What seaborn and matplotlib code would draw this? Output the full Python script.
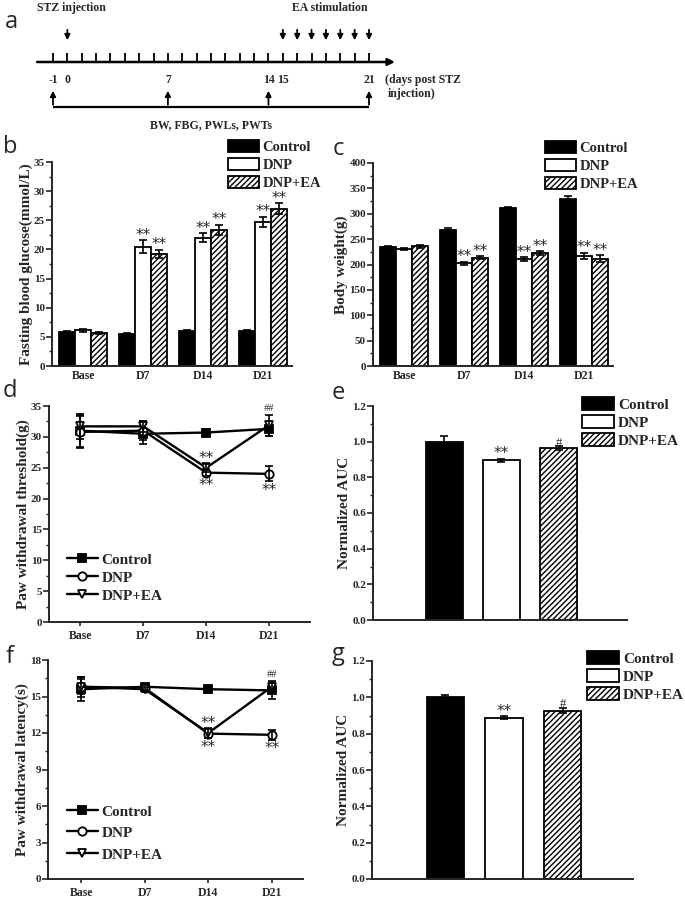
import numpy as np
import pandas as pd
import matplotlib
matplotlib.use("Agg")
import matplotlib.pyplot as plt
from matplotlib.ticker import MultipleLocator
import seaborn as sns

sns.set_style("ticks")
plt.rcParams['font.family'] = ['Liberation Serif', 'DejaVu Serif']
plt.rcParams['font.weight'] = 'bold'
plt.rcParams['axes.labelweight'] = 'bold'
plt.rcParams['hatch.linewidth'] = 1.0
plt.rcParams['hatch.color'] = 'black'

W, H = 685, 899

# ---- data ----
groups = ["Control", "DNP", "DNP+EA"]
days = ["Base", "D7", "D14", "D21"]

# timeline (panel a)
tl_days = list(range(-1, 22))
stz_days = [0]
ea_days = [15, 16, 17, 18, 19, 20, 21]
test_days = [-1, 7, 14, 21]
tl_label_days = [-1, 0, 7, 14, 15, 21]

# b: fasting blood glucose
fbg_ctrl = [5.8, 5.5, 6.0, 6.0]
fbg_dnp = [6.1, 20.5, 22.0, 24.7]
fbg_ea = [5.7, 19.2, 23.3, 27.0]
fbg_ctrl_err = [0.2, 0.2, 0.2, 0.2]
fbg_dnp_err = [0.2, 1.1, 0.8, 0.9]
fbg_ea_err = [0.2, 0.7, 0.9, 0.9]

# c: body weight
bw_ctrl = [235, 268, 311, 330]
bw_dnp = [230, 202, 210, 217]
bw_ea = [236, 213, 222, 211]
bw_ctrl_err = [2, 3, 3, 5]
bw_dnp_err = [2, 3, 4, 6]
bw_ea_err = [3, 3, 4, 7]

# d: paw withdrawal threshold
pwt_ctrl = [31.0, 30.5, 30.7, 31.3]
pwt_dnp = [30.8, 31.0, 24.2, 24.0]
pwt_ea = [31.7, 31.7, 25.0, 31.9]
pwt_ctrl_err = [2.6, 1.6, 0.5, 1.1]
pwt_dnp_err = [2.6, 1.5, 0.6, 1.2]
pwt_ea_err = [2.0, 0.9, 0.7, 1.7]

# e: normalized AUC (PWT)
auc_e = [1.0, 0.895, 0.963]
auc_e_err = [0.03, 0.007, 0.01]

# f: paw withdrawal latency
pwl_ctrl = [15.6, 15.8, 15.6, 15.5]
pwl_dnp = [15.8, 15.7, 11.95, 11.85]
pwl_ea = [15.8, 15.6, 12.0, 15.8]
pwl_ctrl_err = [1.0, 0.2, 0.3, 0.7]
pwl_dnp_err = [0.6, 0.2, 0.4, 0.4]
pwl_ea_err = [0.8, 0.2, 0.4, 0.5]

# g: normalized AUC (PWL)
auc_g = [1.0, 0.887, 0.927]
auc_g_err = [0.012, 0.008, 0.014]

fills = {"Control": "black", "DNP": "white", "DNP+EA": "white"}
hatches = {"Control": "", "DNP": "", "DNP+EA": "//////"}
markers = {"Control": "s", "DNP": "o", "DNP+EA": "v"}
mfaces = {"Control": "black", "DNP": "white", "DNP+EA": "white"}

fig = plt.figure(figsize=(W / 100, H / 100), dpi=100)


def px_axes(l, t, r, b):
    return fig.add_axes([l / W, 1 - b / H, (r - l) / W, (b - t) / H])


def style_axes(ax, major, xticks=False):
    sns.despine(ax=ax)
    for s in ["left", "bottom"]:
        ax.spines[s].set_linewidth(1.4)
    ax.yaxis.set_major_locator(MultipleLocator(major))
    ax.yaxis.set_minor_locator(MultipleLocator(major / 2))
    ax.tick_params(axis='y', which='major', length=4, width=1.2, labelsize=8, pad=1)
    ax.tick_params(axis='y', which='minor', length=2.5, width=1.0)
    ax.tick_params(axis='x', length=3 if xticks else 0, width=1.2, labelsize=8.5, pad=3)
    for lab in ax.get_xticklabels() + ax.get_yticklabels():
        lab.set_fontweight('bold')
    ax.set_xlabel("")


def legend(ax, handles, x, y, fs, spacing, hl=2.1):
    fig.legend(handles=handles, labels=groups, loc='upper left',
               bbox_to_anchor=(x / W, 1 - y / H), frameon=False, fontsize=fs,
               borderpad=0, borderaxespad=0, handlelength=hl, handleheight=0.9,
               handletextpad=0.25, labelspacing=spacing)


def star(ax, x, y, s, va):
    if s == "#":
        fs = 9
    elif s == "##":
        fs = 7.5
    else:
        fs = 11
    ax.text(x, y, s, ha='center', va=va, fontsize=fs, fontweight='normal',
            family=['DejaVu Sans'] if s.startswith("*") else ['Liberation Serif'])


def grouped_bars(ax, means, errs, stars, ylim, major, ylabel):
    df = pd.DataFrame({"day": [d for g in groups for d in days],
                       "group": [g for g in groups for _ in days],
                       "value": [v for m in means for v in m]})
    sns.barplot(data=df, x="day", y="value", hue="group", order=days, hue_order=groups,
                errorbar=None, width=0.8, ax=ax, legend=False, gap=0)
    bar_conts = list(ax.containers)
    for cont, g, m, e, st in zip(bar_conts, groups, means, errs, stars):
        xs = []
        for p in cont:
            p.set_facecolor(fills[g])
            p.set_edgecolor("black")
            p.set_linewidth(1.3)
            p.set_hatch(hatches[g])
            xs.append(p.get_x() + p.get_width() / 2)
        ax.errorbar(xs, m, yerr=e, fmt='none', ecolor='black', elinewidth=1.2,
                    capsize=2.8, capthick=1.2)
        for x, v, ev, s in zip(xs, m, e, st):
            if s:
                star(ax, x, v + ev - ylim * 0.012, s, 'bottom')
    ax.set_ylim(0, ylim)
    ax.set_xlim(-0.52, 3.48)
    ax.set_ylabel(ylabel, fontsize=11, labelpad=1)
    style_axes(ax, major)
    return [c.patches[0] for c in bar_conts]


def lines(ax, means, errs, ylim, major, ylabel):
    for g, m, e in zip(groups, means, errs):
        sns.lineplot(x=days, y=m, ax=ax, color='black', lw=1.7, marker=markers[g],
                     markersize=6, markerfacecolor=mfaces[g], markeredgecolor='black',
                     markeredgewidth=1.3, sort=False, legend=False)
        ax.errorbar(range(len(days)), m, yerr=e, fmt='none', ecolor='black',
                    elinewidth=1.2, capsize=3, capthick=1.2)
    ax.set_ylim(0, ylim)
    ax.set_ylabel(ylabel, fontsize=11, labelpad=1)
    style_axes(ax, major, xticks=True)
    return [l for l in ax.get_lines() if l.get_marker() in ("s", "o", "v")][:3]


def auc_bars(ax, vals, errs, stars):
    sns.barplot(x=groups, y=vals, hue=groups, palette=fills, errorbar=None,
                width=0.64, ax=ax, legend=False)
    bars = list(ax.patches[:3])
    xs = []
    for p, g in zip(bars, groups):
        p.set_edgecolor("black")
        p.set_linewidth(1.3)
        p.set_hatch(hatches[g])
        xs.append(p.get_x() + p.get_width() / 2)
    ax.errorbar(xs, vals, yerr=errs, fmt='none', ecolor='black', elinewidth=1.2,
                capsize=3, capthick=1.2)
    for x, v, ev, s in zip(xs, vals, errs, stars):
        if s:
            star(ax, x, v + ev - 0.012, s, 'bottom')
    ax.set_ylim(0, 1.2)
    ax.set_xlim(-1.25, 3.2)
    ax.set_ylabel("Normalized AUC", fontsize=11, labelpad=1)
    ax.set_xticks([])
    style_axes(ax, 0.2)
    ax.yaxis.set_major_formatter(plt.FormatStrFormatter('%.1f'))
    return bars


# ---- panel a: timeline ----
axa = fig.add_axes([0, 1 - 135 / H, 1, 135 / H])
axa.set_xlim(-4.69, 43.0)
axa.set_ylim(135, 0)
axa.axis('off')
axa.annotate('', xy=(23.0, 62), xytext=(-2.3, 62),
             arrowprops=dict(arrowstyle='-|>', lw=1.8, color='black', mutation_scale=10))
axa.vlines(tl_days, 53, 62, color='black', lw=1.3)
for d in stz_days + ea_days:
    axa.annotate('', xy=(d, 43), xytext=(d, 27),
                 arrowprops=dict(arrowstyle='-|>', lw=1.3, color='black', mutation_scale=8))
for d in test_days:
    axa.annotate('', xy=(d, 88), xytext=(d, 107.5),
                 arrowprops=dict(arrowstyle='-|>', lw=1.3, color='black', mutation_scale=8))
axa.hlines(107, test_days[0], test_days[-1], color='black', lw=1.6)
for d in tl_label_days:
    axa.text(d, 80, str(d), ha='center', va='center', fontsize=8.5)
axa.text(22.1, 80, "(days post STZ", ha='left', va='center', fontsize=8.5)
axa.text(22.3, 94, "injection)", ha='left', va='center', fontsize=8.5)
axa.text(0.25, 8, "STZ injection", ha='center', va='center', fontsize=8.5)
axa.text(18.3, 8, "EA stimulation", ha='center', va='center', fontsize=8.5)
axa.text(10.0, 125, "BW, FBG, PWLs, PWTs", ha='center', va='center', fontsize=8.5)

# ---- panel b ----
axb = px_axes(52, 162, 292, 366)
stars_b = [["", "", "", ""], ["", "**", "**", "**"], ["", "**", "**", "**"]]
hb = grouped_bars(axb, [fbg_ctrl, fbg_dnp, fbg_ea], [fbg_ctrl_err, fbg_dnp_err, fbg_ea_err],
                  stars_b, 35, 5, "Fasting blood glucose(mmol/L)")
legend(axb, hb, 228, 140, 10.5, 0.28)

# ---- panel c ----
axc = px_axes(373, 163, 613, 366)
stars_c = [["", "", "", ""], ["", "**", "**", "**"], ["", "**", "**", "**"]]
hc = grouped_bars(axc, [bw_ctrl, bw_dnp, bw_ea], [bw_ctrl_err, bw_dnp_err, bw_ea_err],
                  stars_c, 400, 50, "Body weight(g)")
legend(axc, hc, 545, 141, 10.5, 0.28)

# ---- panel d ----
axd = px_axes(49, 406, 310, 622)
hd = lines(axd, [pwt_ctrl, pwt_dnp, pwt_ea], [pwt_ctrl_err, pwt_dnp_err, pwt_ea_err],
           35, 5, "Paw withdrawal threshold(g)")
axd.set_xlim(-0.5, 3.65)
star(axd, 2, pwt_ea[2] + pwt_ea_err[2] - 0.4, "**", 'bottom')
star(axd, 2, pwt_dnp[2] - pwt_dnp_err[2] - 0.2, "**", 'top')
star(axd, 3, pwt_ea[3] + pwt_ea_err[3] + 0.2, "##", 'bottom')
star(axd, 3, pwt_dnp[3] - pwt_dnp_err[3] - 0.2, "**", 'top')
legend(axd, hd, 67, 552, 11, 0.22, hl=2.0)

# ---- panel e ----
axe = px_axes(373, 406, 627, 620)
he = auc_bars(axe, auc_e, auc_e_err, ["", "**", "#"])
legend(axe, he, 582, 397, 11, 0.22)

# ---- panel f ----
axf = px_axes(48, 660, 303, 879)
hf = lines(axf, [pwl_ctrl, pwl_dnp, pwl_ea], [pwl_ctrl_err, pwl_dnp_err, pwl_ea_err],
           18, 3, "Paw withdrawal latency(s)")
axf.set_xlim(-0.52, 3.49)
star(axf, 2, pwl_ea[2] + pwl_ea_err[2] - 0.2, "**", 'bottom')
star(axf, 2, pwl_dnp[2] - pwl_dnp_err[2] - 0.1, "**", 'top')
star(axf, 3, pwl_ea[3] + pwl_ea_err[3] + 0.1, "##", 'bottom')
star(axf, 3, pwl_dnp[3] - pwl_dnp_err[3] - 0.1, "**", 'top')
legend(axf, hf, 67, 804, 11, 0.45, hl=2.0)

# ---- panel g ----
axg = px_axes(372, 661, 633, 879)
hg = auc_bars(axg, auc_g, auc_g_err, ["", "**", "#"])
legend(axg, hg, 587, 651, 11, 0.22)

# panel letters (baseline positions in pixels)
for lab, x, y in [("a", 5, 28), ("b", 3, 153), ("c", 333, 155), ("d", 3, 397),
                  ("e", 332, 399), ("f", 6, 663), ("g", 332, 660)]:
    fig.text(x / W, 1 - y / H, lab, fontsize=17, fontweight='normal',
             family=['Open Sans', 'DejaVu Sans'], va='baseline', ha='left')

fig.savefig("out.png", dpi=100)
